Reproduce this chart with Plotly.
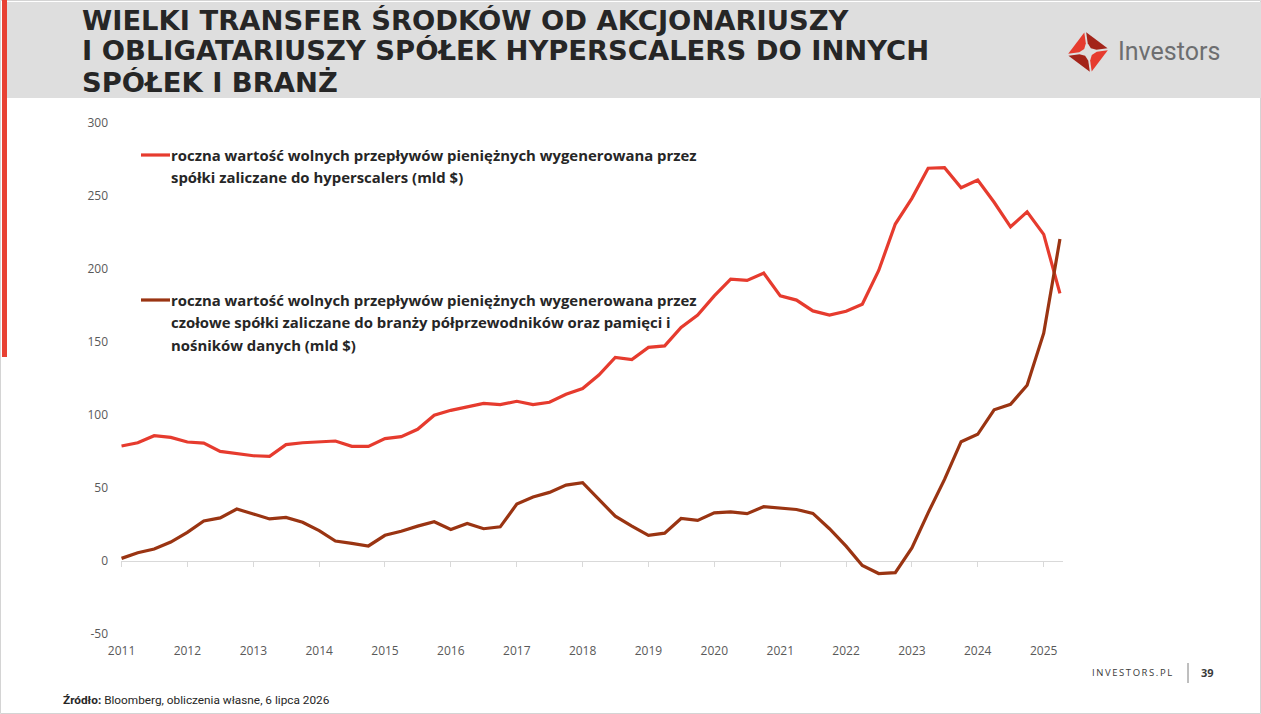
import math
import plotly.graph_objects as go

W, H = 1261, 714

# ---------------- data ----------------
years = list(range(2011, 2026))
quarter_months = ["01", "04", "07", "10"]
quarters = [f"{y}-{m}-01" for y in years for m in quarter_months][:58]

hyperscalers_fcf = [
    78.8, 81.0, 85.8, 84.7, 81.5, 80.8, 75.1, 73.5, 72.1, 71.7,
    79.7, 81.0, 81.5, 82.2, 78.5, 78.5, 83.8, 85.2, 90.2, 99.8,
    103.2, 105.5, 108.0, 107.1, 109.4, 107.1, 108.7, 114.2, 118.1, 127.4,
    139.4, 138.0, 146.3, 147.3, 159.9, 168.4, 181.6, 193.1, 192.2, 197.2,
    181.6, 178.7, 171.3, 168.4, 171.1, 175.9, 199.0, 230.8, 248.4, 269.0,
    269.4, 255.6, 261.0, 245.7, 228.9, 239.2, 223.7, 183.3,
]
semis_fcf = [
    1.8, 5.7, 8.2, 13.0, 19.6, 27.4, 29.5, 35.6, 32.2, 28.8,
    29.9, 26.5, 20.8, 13.7, 12.1, 10.3, 17.6, 20.4, 23.9, 26.9,
    21.6, 25.7, 22.1, 23.4, 39.0, 43.8, 47.0, 52.0, 53.6, 42.2,
    30.7, 23.9, 17.5, 19.1, 29.1, 27.8, 33.0, 33.7, 32.4, 37.2,
    36.5, 35.3, 32.6, 22.1, 10.2, -3.1, -8.6, -8.0, 9.0, 33.0,
    55.9, 81.7, 86.8, 103.6, 107.3, 120.4, 156.0, 220.5,
]

y_ticks = [-50, 0, 50, 100, 150, 200, 250, 300]
y_tick_labels = ["-50", "0", "50", "100", "150", "200", "250", "300"]
title_lines = [
    "WIELKI TRANSFER ŚRODKÓW OD AKCJONARIUSZY",
    "I OBLIGATARIUSZY SPÓŁEK HYPERSCALERS DO INNYCH",
    "SPÓŁEK I BRANŻ",
]
legend_hyper = [
    "roczna wartość wolnych przepływów pieniężnych wygenerowana przez",
    "spółki zaliczane do hyperscalers (mld $)",
]
legend_semis = [
    "roczna wartość wolnych przepływów pieniężnych wygenerowana przez",
    "czołowe spółki zaliczane do branży półprzewodników oraz pamięci i",
    "nośników danych (mld $)",
]
source_bold = "Źródło:"
source_text = " Bloomberg, obliczenia własne, 6 lipca 2026"
footer_brand = "INVESTORS.PL"
page_no = "39"
logo_text = "Investors"

RED = "#e63b2e"
BROWN = "#9a3412"
TEXT = "#262626"
TICK = "#595959"
FONT = "Open Sans"


def px(x):
    return x / W


def py(y):
    return 1 - y / H


# plot area in pixels
L, R, T, B = 121, 1063, 123, 634
Y0, Y1 = -50, 300
zero_px = B - (0 - Y0) / (Y1 - Y0) * (B - T)

fig = go.Figure()
fig.add_trace(go.Scatter(x=quarters, y=hyperscalers_fcf, mode="lines",
                         line=dict(color=RED, width=3.2), xaxis="x", yaxis="y",
                         hoverinfo="skip", showlegend=False))
fig.add_trace(go.Scatter(x=quarters, y=semis_fcf, mode="lines",
                         line=dict(color=BROWN, width=3.2), xaxis="x", yaxis="y",
                         hoverinfo="skip", showlegend=False))
# invisible helper trace so the label axis at the bottom is drawn
fig.add_trace(go.Scatter(x=[quarters[0]], y=[0], mode="markers",
                         marker=dict(opacity=0, size=1), xaxis="x2", yaxis="y",
                         hoverinfo="skip", showlegend=False))

x_range = ["2010-12-29", "2025-04-18"]

fig.update_layout(
    width=W, height=H,
    margin=dict(l=0, r=0, t=0, b=0),
    paper_bgcolor="white", plot_bgcolor="white",
    showlegend=False,
    # axis line with tick marks at y = 0
    xaxis=dict(domain=[px(L), px(R)], type="date", range=x_range,
               tick0="2011-01-01", dtick="M12",
               anchor="free", position=py(zero_px),
               showline=True, linecolor="#d9d9d9", linewidth=1,
               ticks="outside", ticklen=5, tickcolor="#d9d9d9", tickwidth=1,
               showticklabels=False, showgrid=False, zeroline=False,
               layer="below traces", automargin=False),
    # labels only, at the bottom of the plot
    xaxis2=dict(domain=[px(L), px(R)], type="date", range=x_range,
                overlaying="x", anchor="y", side="bottom",
                tick0="2011-01-01", dtick="M12", tickformat="%Y",
                showline=False, ticks="", showgrid=False, zeroline=False,
                tickfont=dict(family=FONT, size=12, color=TICK),
                ticklabelstandoff=8, automargin=False),
    yaxis=dict(domain=[py(B), py(T)], range=[Y0, Y1],
               tickmode="array", tickvals=y_ticks, ticktext=y_tick_labels,
               anchor="x",
               showline=False, ticks="", showgrid=False, zeroline=False,
               tickfont=dict(family=FONT, size=12, color=TICK),
               ticklabelstandoff=12, automargin=False),
)

shapes = []
# slide border
shapes.append(dict(type="rect", xref="paper", yref="paper",
                   x0=px(0.5), x1=px(W - 0.5), y0=py(H - 0.5), y1=py(0.5),
                   line=dict(color="#d4d4d4", width=1), fillcolor="rgba(0,0,0,0)", layer="below"))
# header band
shapes.append(dict(type="rect", xref="paper", yref="paper",
                   x0=px(7), x1=px(W), y0=py(98), y1=py(2),
                   line=dict(width=0), fillcolor="#dedede", layer="below"))
# red side bar
shapes.append(dict(type="rect", xref="paper", yref="paper",
                   x0=px(2), x1=px(7), y0=py(357), y1=py(0),
                   line=dict(width=0), fillcolor="#e84133", layer="below"))
# legend line samples
shapes.append(dict(type="line", xref="paper", yref="paper",
                   x0=px(141), x1=px(170), y0=py(155), y1=py(155),
                   line=dict(color=RED, width=3.2)))
shapes.append(dict(type="line", xref="paper", yref="paper",
                   x0=px(141), x1=px(170), y0=py(300), y1=py(300),
                   line=dict(color=BROWN, width=3.2)))
# footer separator
shapes.append(dict(type="line", xref="paper", yref="paper",
                   x0=px(1188), x1=px(1188), y0=py(663), y1=py(683),
                   line=dict(color="#7f7f7f", width=1)))

# logo icon: pinwheel of four petals
cx, cy = 1088, 52
R_out, R_in, R_mid = 22, 9, 4
colors = ["#a3241a", "#e63b2e", "#a3241a", "#e63b2e"]
for k in range(4):
    a0 = math.radians(90 * k + 8)
    a1 = math.radians(90 * (k + 1) + 8)
    am = math.radians(90 * k + 45 + 8)
    pts = [
        (cx + R_out * math.cos(a0), cy - R_out * math.sin(a0)),
        (cx + R_out * math.cos(a1), cy - R_out * math.sin(a1)),
        (cx + R_in * math.cos(a1), cy - R_in * math.sin(a1)),
        (cx + R_mid * math.cos(am), cy - R_mid * math.sin(am)),
        (cx + R_in * math.cos(a0), cy - R_in * math.sin(a0)),
    ]
    gx = sum(p[0] for p in pts) / len(pts)
    gy = sum(p[1] for p in pts) / len(pts)
    pts = [(gx + 0.86 * (p[0] - gx), gy + 0.86 * (p[1] - gy)) for p in pts]
    path = "M " + " L ".join(f"{px(p[0])},{py(p[1])}" for p in pts) + " Z"
    shapes.append(dict(type="path", xref="paper", yref="paper", path=path,
                       fillcolor=colors[k], line=dict(width=0)))

fig.update_layout(shapes=shapes)

ann = []
title_y = [20, 51, 82]
for t, yc in zip(title_lines, title_y):
    ann.append(dict(text=f"<b>{t}</b>", x=px(80), y=py(yc), xref="paper", yref="paper",
                    xanchor="left", yanchor="middle", showarrow=False,
                    font=dict(family="DejaVu Sans", size=27.4, color=TEXT)))

for t, yc in zip(legend_hyper, [155, 177]):
    ann.append(dict(text=f"<b>{t}</b>", x=px(169), y=py(yc), xref="paper", yref="paper",
                    xanchor="left", yanchor="middle", showarrow=False,
                    font=dict(family=FONT, size=14.9, color=TEXT)))
for t, yc in zip(legend_semis, [300, 322, 345]):
    ann.append(dict(text=f"<b>{t}</b>", x=px(169), y=py(yc), xref="paper", yref="paper",
                    xanchor="left", yanchor="middle", showarrow=False,
                    font=dict(family=FONT, size=14.9, color=TEXT)))

ann.append(dict(text=logo_text, x=px(1116), y=py(52), xref="paper", yref="paper",
                xanchor="left", yanchor="middle", showarrow=False,
                font=dict(family="Roboto", size=25, color="#6d6e70")))

ann.append(dict(text="\u2009".join(footer_brand),
                x=px(1174), y=py(672), xref="paper", yref="paper",
                xanchor="right", yanchor="middle", showarrow=False,
                font=dict(family=FONT, size=9.5, color="#3a3a3a")))
ann.append(dict(text=f"<b>{page_no}</b>", x=px(1199), y=py(672), xref="paper", yref="paper",
                xanchor="left", yanchor="middle", showarrow=False,
                font=dict(family=FONT, size=11, color="#3a3a3a")))
ann.append(dict(text=f"<b>{source_bold}</b>{source_text}", x=px(61), y=py(700),
                xref="paper", yref="paper", xanchor="left", yanchor="middle", showarrow=False,
                font=dict(family="Roboto", size=11.8, color=TEXT)))

fig.update_layout(annotations=ann)

fig.write_html("out.html")
